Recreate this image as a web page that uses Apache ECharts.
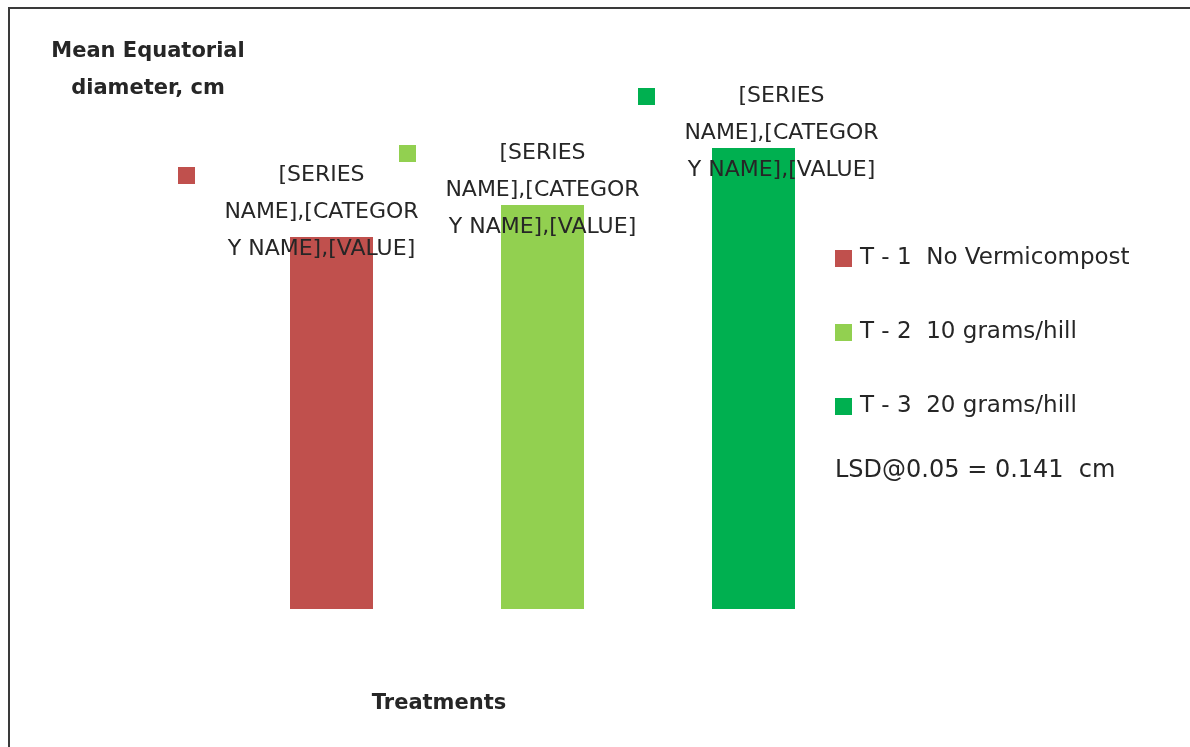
<!DOCTYPE html>
<html>
<head>
<meta charset="utf-8">
<script src="https://cdn.jsdelivr.net/npm/echarts@6/dist/echarts.min.js"></script>
<style>
  html, body { margin: 0; padding: 0; background: #fff; }
  #chart { width: 1190px; height: 747px; }
</style>
</head>
<body>
<div id="chart"></div>
<script>
// 数据
const categories = ['T - 1', 'T - 2', 'T - 3'];
const seriesNames = ['T - 1  No Vermicompost', 'T - 2  10 grams/hill', 'T - 3  20 grams/hill'];
const values = [3.72, 4.04, 4.61];
const colors = ['#C0504D', '#92D050', '#00B050'];
// label nudges, like the hand-moved labels in the original
const labelOffsets = [[-10, 31], [0, 41], [28, 41]];

const font = 'DejaVu Sans';

let myChart = echarts.init(document.getElementById('chart'));

const makeSeries = (i) => {
  let data = categories.map((c, j) => (j === i ? values[i] : '-'));
  return {
    name: seriesNames[i],
    type: 'bar',
    stack: 'all',
    barWidth: 83,
    data: data,
    itemStyle: { color: colors[i] },
    label: {
      show: true,
      position: 'top',
      distance: 0,
      offset: labelOffsets[i],
      align: 'center',
      fontFamily: font,
      fontSize: 22,
      lineHeight: 37,
      color: '#262626',
      formatter: '{k|}{g|}{s|[SERIES}{g2|}\nNAME],[CATEGOR\nY NAME],[VALUE]',
      rich: {
        k: { width: 17, height: 17, backgroundColor: colors[i], lineHeight: 37, verticalAlign: 'middle' },
        g: { width: 84, lineHeight: 37 },
        s: { width: 85, align: 'center', fontFamily: font, fontSize: 22, lineHeight: 37, color: '#262626' },
        g2: { width: 101, lineHeight: 37 }
      }
    }
  };
};

let option = {
  animation: false,
  backgroundColor: '#fff',
  title: [
    {
      text: 'Mean Equatorial\ndiameter, cm',
      left: 143,
      top: 28,
      textAlign: 'center',
      textStyle: { fontFamily: font, fontWeight: 'bold', fontSize: 21, lineHeight: 37, color: '#262626' }
    },
    {
      text: 'Treatments',
      left: 434,
      top: 684,
      textAlign: 'center',
      textStyle: { fontFamily: font, fontWeight: 'bold', fontSize: 21, lineHeight: 30, color: '#262626' }
    },
    {
      text: 'LSD@0.05 = 0.141  cm',
      left: 830,
      top: 451,
      textStyle: { fontFamily: font, fontWeight: 'normal', fontSize: 24, lineHeight: 30, color: '#262626' }
    }
  ],
  legend: {
    orient: 'vertical',
    left: 830,
    top: 242,
    itemWidth: 17,
    itemHeight: 17,
    itemGap: 51,
    icon: 'rect',
    data: seriesNames,
    textStyle: { fontFamily: font, fontSize: 23, lineHeight: 23, color: '#262626', padding: [0, 0, 0, 3] }
  },
  grid: { left: 226, right: 331, top: 109, bottom: 138 },
  xAxis: {
    type: 'category',
    data: categories,
    show: false
  },
  yAxis: {
    type: 'value',
    min: 0,
    max: 5,
    show: false
  },
  graphic: [
    {
      type: 'rect',
      silent: true,
      shape: { x: 9, y: 8, width: 1300, height: 900 },
      style: { fill: 'none', stroke: '#3a3a3a', lineWidth: 2 }
    }
  ],
  series: [makeSeries(0), makeSeries(1), makeSeries(2)]
};

myChart.setOption(option);
</script>
</body>
</html>
